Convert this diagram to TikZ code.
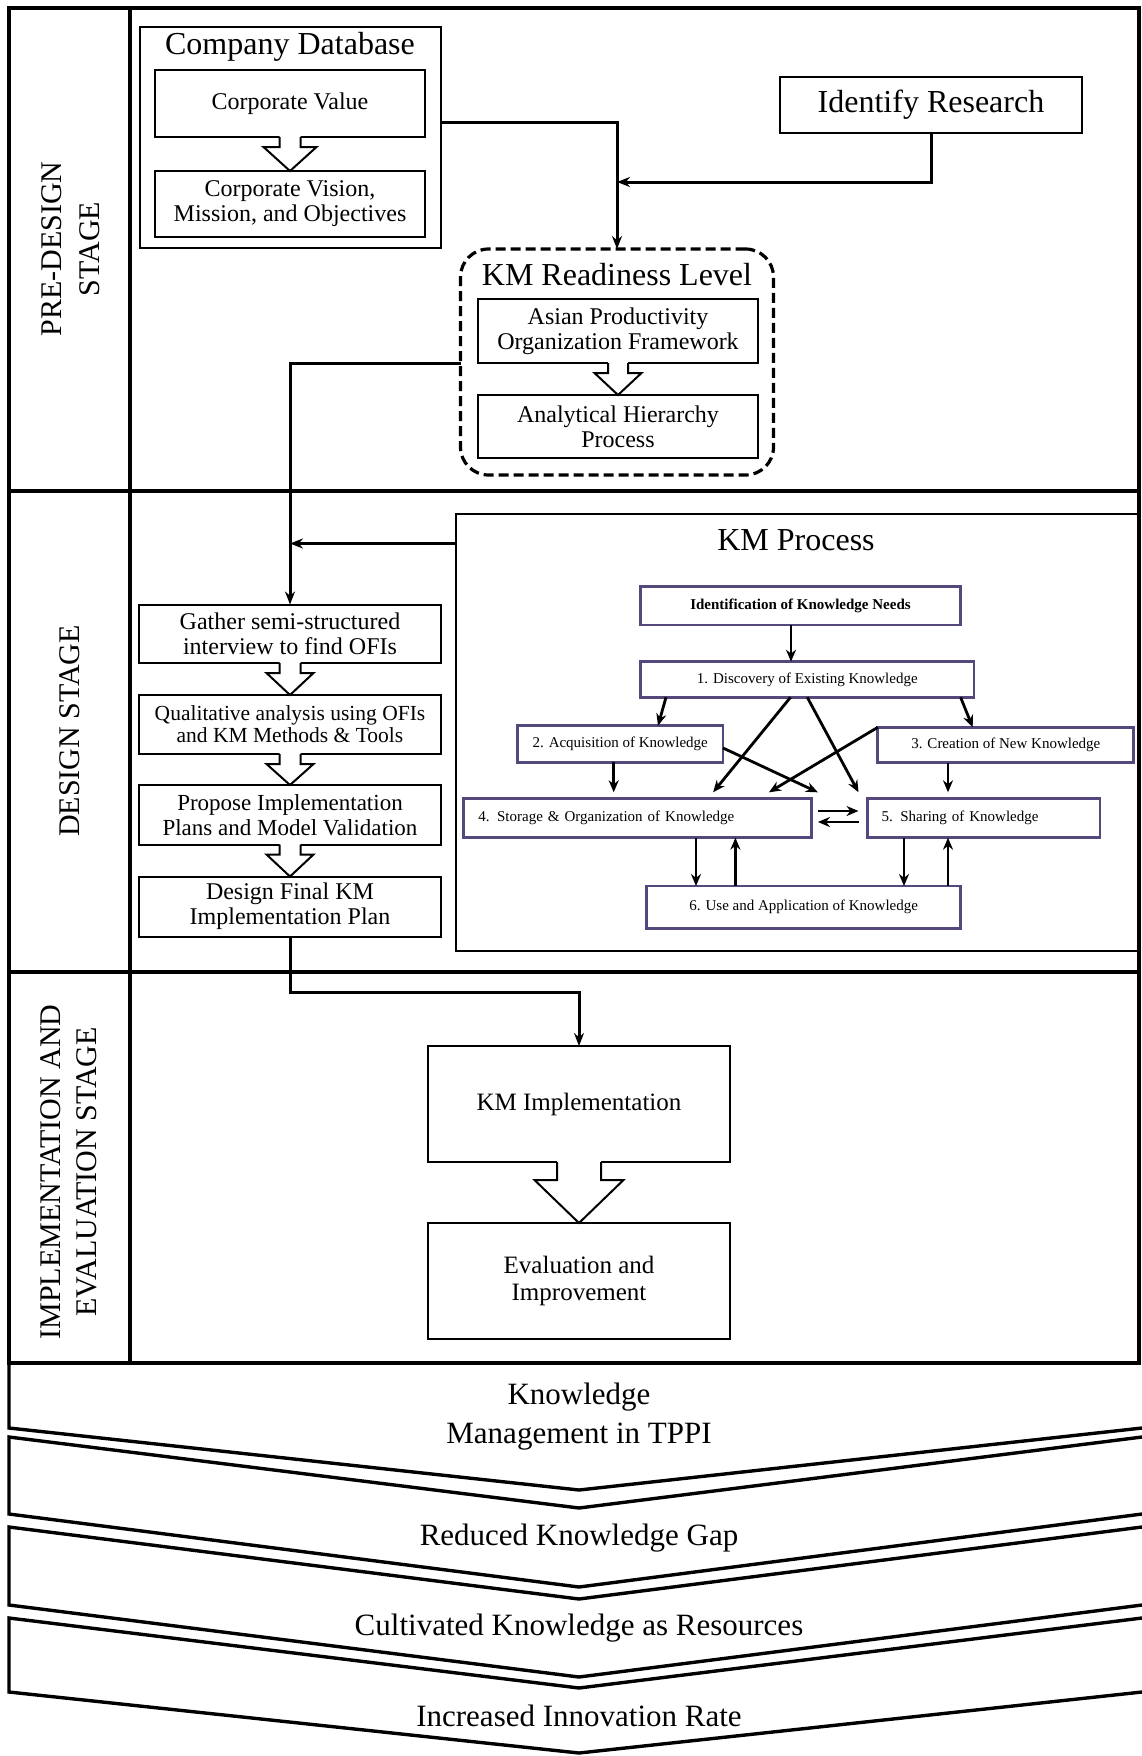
\documentclass[tikz,border=0pt]{standalone}
\usepackage{fontspec}
\setmainfont{Liberation Serif}
\usetikzlibrary{arrows.meta,calc}
\definecolor{kmpurple}{RGB}{84,72,124}
\newcommand{\hollowdown}[6]{%
  \fill[white] ({#1-#3},{#2-1.6}) -- ({#1-#3},{#2+#5}) -- ({#1-#4},{#2+#5}) -- (#1,#6) -- ({#1+#4},{#2+#5}) -- ({#1+#3},{#2+#5}) -- ({#1+#3},{#2-1.6}) -- cycle;
  \draw[hol] ({#1-#3},#2) -- ({#1-#3},{#2+#5}) -- ({#1-#4},{#2+#5}) -- (#1,#6) -- ({#1+#4},{#2+#5}) -- ({#1+#3},{#2+#5}) -- ({#1+#3},#2);}
\begin{document}
\begin{tikzpicture}[x=1pt,y=-1pt,
  frame/.style={line width=3.4pt},
  bx/.style={draw,line width=2pt,inner sep=0pt,outer sep=0pt,align=center,fill=white},
  hol/.style={line width=2pt,line join=miter},
  conn/.style={line width=3pt,-{Stealth[length=13pt,width=10pt]}},
  kbox/.style={draw=kmpurple,line width=2.8pt,inner sep=0pt,outer sep=0pt,align=center,fill=white,font=\fontsize{15pt}{17pt}\selectfont},
  karr/.style={line width=2.8pt,-{Stealth[length=12pt,width=10pt]}},
  f32/.style={font=\fontsize{32pt}{34pt}\selectfont},
  f24/.style={font=\fontsize{24pt}{25pt}\selectfont},
  f25/.style={font=\fontsize{25pt}{27pt}\selectfont},
  chev/.style={font=\fontsize{31pt}{39pt}\selectfont,align=center},
  stagelbl/.style={rotate=90,align=center,font=\fontsize{30pt}{38pt}\selectfont},
]
\useasboundingbox (0,0) rectangle (1142,1756);
% frame
\draw[frame] (9,8) rectangle (1139,1363);
\draw[frame] (9,491) -- (1139,491);
\draw[frame] (9,972) -- (1139,972);
\draw[frame] (130,8) -- (130,1363);
% chevrons
\draw[frame,line join=miter] (9,1363) -- (9,1428) -- (579,1490) -- (1142,1428);
\draw[frame,line join=miter] (1142,1437) -- (579,1508) -- (9,1437) -- (9,1514) -- (579,1587) -- (1142,1514);
\draw[frame,line join=miter] (1142,1527) -- (579,1599) -- (9,1527) -- (9,1605) -- (579,1677) -- (1142,1605);
\draw[frame,line join=miter] (1142,1618) -- (579,1688) -- (9,1618) -- (9,1692) -- (579,1753) -- (1142,1692);
\node[chev] (c1) at (579,1417) {Knowledge\\Management in TPPI};
\node[chev] (c2) at (579,1538) {Reduced Knowledge Gap};
\node[chev] (c3) at (579,1628) {Cultivated Knowledge as Resources};
\node[chev] (c4) at (579,1716) {Increased Innovation Rate};
% stage labels
\node[stagelbl] (lpre) at (71,249) {PRE-DESIGN\\STAGE};
\node[stagelbl] (ldes) at (70,731) {DESIGN STAGE};
\node[stagelbl,font=\fontsize{30pt}{36pt}\selectfont] (limp) at (69,1172) {IMPLEMENTATION AND\\EVALUATION STAGE};
% pre-design
\node[bx,minimum width=301pt,minimum height=221pt] (cdb) at (290.5,137.5) {};
\node[f32] (cdbt) at (290,47) {Company Database};
\node[bx,f24,minimum width=270pt,minimum height=67pt] (cv) at (290,103.5) {Corporate Value};
\node[bx,f24,minimum width=270pt,minimum height=66pt] (cvis) at (290,204) {Corporate Vision,\\Mission, and Objectives};
\hollowdown{290}{137}{10.5}{26.5}{10}{171}
\node[bx,f32,minimum width=302pt,minimum height=56pt] (ir) at (931,105) {Identify Research};
\node[draw,line width=3.2pt,dash pattern=on 10pt off 5pt,rounded corners=28pt,minimum width=313pt,minimum height=226pt,inner sep=0pt,outer sep=0pt] (ready) at (617,362) {};
\node[f32] (readyt) at (617,275) {KM Readiness Level};
\node[bx,f24,minimum width=280pt,minimum height=64pt] (asian) at (618,331) {Asian Productivity\\Organization Framework};
\node[bx,f24,minimum width=280pt,minimum height=63pt] (ahp) at (618,426.5) {Analytical Hierarchy\\Process};
\hollowdown{618}{363}{10}{23.5}{10}{395}
% design
\node[bx,f24,minimum width=302pt,minimum height=58.5pt] (gather) at (290,633.75) {Gather semi-structured\\interview to find OFIs};
\node[bx,font=\fontsize{21.5pt}{22pt}\selectfont,minimum width=302pt,minimum height=59pt] (qual) at (290,724.5) {Qualitative analysis using OFIs\\and KM Methods \& Tools};
\node[bx,font=\fontsize{23pt}{25pt}\selectfont,minimum width=302pt,minimum height=59.5pt] (prop) at (290,814.75) {Propose Implementation\\Plans and Model Validation};
\node[bx,f24,minimum width=302pt,minimum height=60pt] (final) at (290,906.5) {Design Final KM\\Implementation Plan};
\hollowdown{290}{663}{10.5}{23.5}{10}{695}
\hollowdown{290}{754}{10.5}{23.5}{10}{785}
\hollowdown{290}{844.5}{10.5}{23.5}{10}{876.5}
% KM process
\node[bx,minimum width=682pt,minimum height=437pt] (kmp) at (797,732.5) {};
\node[f32] (kmpt) at (796,540) {KM Process};
\node[kbox,font=\bfseries\fontsize{15pt}{17pt}\selectfont,minimum width=320pt,minimum height=38.3pt] (ident) at (800.5,605.9) {Identification of Knowledge Needs};
\node[kbox,minimum width=333.5pt,minimum height=35.6pt] (disc) at (807.25,679.5) {1. Discovery of Existing Knowledge};
\node[kbox,minimum width=205.6pt,minimum height=36.6pt] (acq) at (620.2,744) {2. Acquisition of Knowledge};
\node[kbox,minimum width=256pt,minimum height=35.4pt] (creat) at (1005.8,745) {3. Creation of New Knowledge};
\node[kbox,text width=318pt,inner xsep=15pt,align=left,minimum height=39.4pt] (stor) at (637.4,818) {4. Storage \& Organization of Knowledge};
\node[kbox,text width=204.5pt,inner xsep=14pt,align=left,minimum height=39.4pt] (shar) at (983.75,818) {5. Sharing of Knowledge};
\node[kbox,minimum width=313.8pt,minimum height=42.3pt] (use) at (803.7,907.15) {6. Use and Application of Knowledge};
\draw[karr] ($(ident.south)+(-9.5,0)$) -- ($(ident.south |- disc.north)+(-9.5,0)$);
\draw[karr] ($(disc.south west)+(25.5,0)$) -- ($(acq.north)+(37.8,0)$);
\draw[karr] ($(disc.south east)+(-13.4,0)$) -- ($(creat.north west)+(94.9,0)$);
\draw[karr] ($(disc.south)+(-16.75,0)$) -- ($(stor.north west)+(249.7,-6)$);
\draw[karr] (disc.south) -- ($(shar.north west)+(-9,-6)$);
\draw[karr] ($(acq.east)+(0,4)$) -- ($(stor.north east)+(6.5,-6)$);
\draw[karr] (creat.north west) -- ($(stor.north east)+(-42.5,-6)$);
\draw[karr] ($(acq.south)+(-6.5,0)$) -- ($(acq.south |- stor.north)+(-6.5,-6)$);
\draw[karr] ($(creat.south)+(-57.8,0)$) -- ($(creat.south |- shar.north)+(-57.8,-6)$);
\draw[karr] ($(stor.south)+(58.6,0)$) -- ($(stor.south |- use.north)+(58.6,0)$);
\draw[karr] ($(stor.south |- use.north)+(98,0)$) -- ($(stor.south)+(98,0)$);
\draw[karr] ($(shar.south)+(-79.75,0)$) -- ($(shar.south |- use.north)+(-79.75,0)$);
\draw[karr] ($(shar.south |- use.north)+(-35.75,0)$) -- ($(shar.south)+(-35.75,0)$);
\draw[karr] ($(stor.east)+(6.5,-7)$) -- ($(shar.west)+(-9,-7)$);
\draw[karr] ($(shar.west)+(-9,4)$) -- ($(stor.east)+(6.5,4)$);
% implementation
\node[bx,f25,minimum width=302pt,minimum height=116pt] (kmi) at (579,1104) {KM Implementation};
\node[bx,f25,minimum width=302pt,minimum height=116pt] (eval) at (579,1281) {Evaluation and\\Improvement};
\hollowdown{579}{1162}{22}{44.5}{18}{1223}
% connectors
\draw[conn] ($(cdb.east)+(0,-15)$) -| (ready.north);
\coordinate (j1) at ($(ready.north)+(0,-67)$);
\draw[conn] (ir.south) |- (j1);
\draw[conn] (ready.west |- asian.south) -| (gather.north);
\coordinate (j2) at ($(gather.north)+(0,-61)$);
\draw[conn] (kmp.west |- j2) -- (j2);
\draw[conn] (final.south) -- ++(0,55.5) -| (kmi.north);
\end{tikzpicture}
\end{document}
